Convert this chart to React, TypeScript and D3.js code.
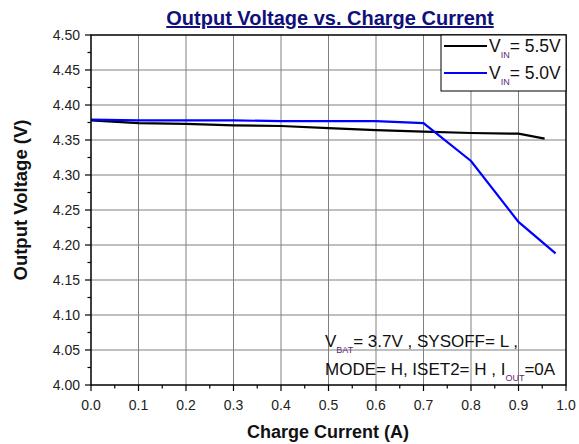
import * as d3 from 'd3';
import React from 'react';

// charge current (A) and output voltage (V)
const vin55Current = [0.0, 0.1, 0.2, 0.3, 0.4, 0.5, 0.6, 0.7, 0.8, 0.9, 0.955];
const vin55Voltage = [4.378, 4.374, 4.373, 4.371, 4.370, 4.367, 4.364, 4.362, 4.360, 4.359, 4.352];

const vin50Current = [0.0, 0.1, 0.2, 0.3, 0.4, 0.5, 0.6, 0.7, 0.8, 0.9, 0.978];
const vin50Voltage = [4.379, 4.378, 4.378, 4.378, 4.377, 4.377, 4.377, 4.374, 4.320, 4.233, 4.188];

const xTicks = [0.0, 0.1, 0.2, 0.3, 0.4, 0.5, 0.6, 0.7, 0.8, 0.9, 1.0];
const yTicks = [4.0, 4.05, 4.1, 4.15, 4.2, 4.25, 4.3, 4.35, 4.4, 4.45, 4.5];

const font = 'Arial, "Liberation Sans", sans-serif';
const subColor = '#5a2a7a';

export default function App() {
    const width = 579;
    const height = 444;
    const left = 91, right = 566, top = 35, bottom = 385;

    const x = d3.scaleLinear().domain([0, 1]).range([left, right]);
    const y = d3.scaleLinear().domain([4.0, 4.5]).range([bottom, top]);

    const line = d3.line<[number, number]>()
        .x(d => x(d[0]))
        .y(d => y(d[1]));

    const black = line(vin55Current.map((c, i) => [c, vin55Voltage[i]] as [number, number])) || '';
    const blue = line(vin50Current.map((c, i) => [c, vin50Voltage[i]] as [number, number])) || '';

    const xMinor = d3.range(0.05, 1, 0.1);
    const yMinor = d3.range(4.025, 4.5, 0.05);

    return (
        <svg width={width} height={height} style={{position: 'absolute', left: 0, top: 0}} fontFamily={font}>
            <rect width={width} height={height} fill="white" />

            {/* grid */}
            {xTicks.slice(1, -1).map(t => (
                <line key={'gx' + t} x1={x(t)} x2={x(t)} y1={top} y2={bottom} stroke="#808080" strokeWidth={1} />
            ))}
            {yTicks.slice(1, -1).map(t => (
                <line key={'gy' + t} x1={left} x2={right} y1={y(t)} y2={y(t)} stroke="#808080" strokeWidth={1} />
            ))}

            {/* data */}
            <path d={black} fill="none" stroke="black" strokeWidth={2.2} />
            <path d={blue} fill="none" stroke="#0000ff" strokeWidth={2.2} />

            {/* frame */}
            <rect x={left} y={top} width={right - left} height={bottom - top} fill="none" stroke="black" strokeWidth={1.5} />

            {/* x ticks */}
            {xTicks.map(t => (
                <g key={'xt' + t}>
                    <line x1={x(t)} x2={x(t)} y1={bottom} y2={bottom + 6} stroke="black" strokeWidth={1.2} />
                    <text x={x(t)} y={410} textAnchor="middle" fontSize={14} fill="#222">{t.toFixed(1)}</text>
                </g>
            ))}
            {xMinor.map(t => (
                <line key={'xm' + t} x1={x(t)} x2={x(t)} y1={bottom} y2={bottom + 3.5} stroke="black" strokeWidth={1.2} />
            ))}

            {/* y ticks */}
            {yTicks.map(t => (
                <g key={'yt' + t}>
                    <line x1={left - 6} x2={left} y1={y(t)} y2={y(t)} stroke="black" strokeWidth={1.2} />
                    <text x={80} y={y(t) + 5} textAnchor="end" fontSize={14} fill="#222">{t.toFixed(2)}</text>
                </g>
            ))}
            {yMinor.map(t => (
                <line key={'ym' + t} x1={left - 3.5} x2={left} y1={y(t)} y2={y(t)} stroke="black" strokeWidth={1.2} />
            ))}

            {/* title */}
            <text x={330} y={25} textAnchor="middle" fontSize={20} fontWeight="bold" fill="#10107a" textDecoration="underline">
                Output Voltage vs. Charge Current
            </text>

            {/* axis labels */}
            <text x={328} y={438} textAnchor="middle" fontSize={18} fontWeight="bold" fill="#111">Charge Current (A)</text>
            <text transform="translate(27,200) rotate(-90)" textAnchor="middle" fontSize={18.5} fontWeight="bold" fill="#111">Output Voltage (V)</text>

            {/* legend */}
            <rect x={441} y={top} width={right - 441} height={56} fill="white" stroke="black" strokeWidth={1} />
            <line x1={444} x2={487} y1={46} y2={46} stroke="black" strokeWidth={2} />
            <line x1={444} x2={487} y1={73} y2={73} stroke="#0000ff" strokeWidth={2} />
            <text x={489} y={52} fontSize={17.5} fill="#111">
                V<tspan dx={0} dy={6} fontSize={9} fill={subColor}>IN</tspan><tspan dy={-6}>= 5.5V</tspan>
            </text>
            <text x={489} y={79} fontSize={17.5} fill="#111">
                V<tspan dx={0} dy={6} fontSize={9} fill={subColor}>IN</tspan><tspan dy={-6}>= 5.0V</tspan>
            </text>

            {/* conditions */}
            <text x={325} y={347} fontSize={17} fill="#111">
                V<tspan dy={6} fontSize={9} fill={subColor}>BAT</tspan><tspan dy={-6}>= 3.7V , SYSOFF= L ,</tspan>
            </text>
            <text x={325} y={375} fontSize={17} fill="#111">
                MODE= H, ISET2= H , I<tspan dy={6} fontSize={9} fill={subColor}>OUT</tspan><tspan dy={-6}>=0A</tspan>
            </text>
        </svg>
    );
}
